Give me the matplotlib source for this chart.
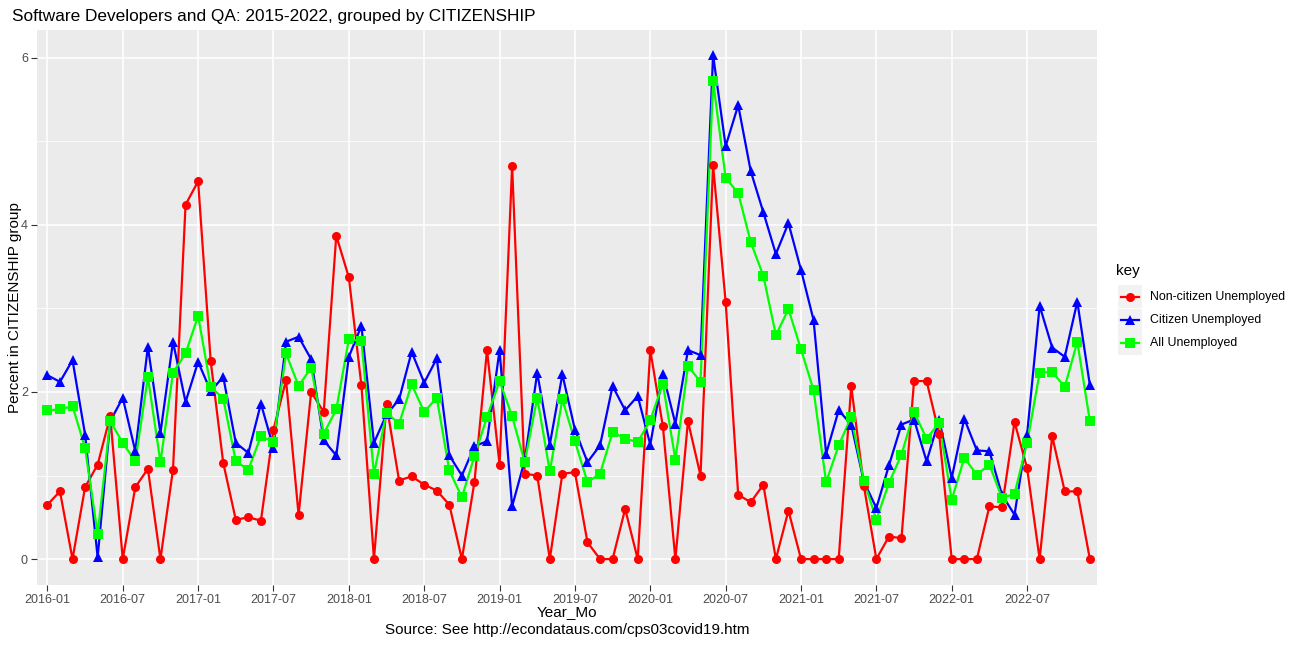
import numpy as np
import matplotlib
matplotlib.use("Agg")
import matplotlib.pyplot as plt
from matplotlib.lines import Line2D
from matplotlib.patches import Rectangle

plt.rcParams['font.family'] = ['Liberation Sans', 'DejaVu Sans']

# monthly values, 2016-01 .. 2022-12
months = [f"{y}-{m:02d}" for y in range(2016, 2023) for m in range(1, 13)]

noncitizen = [
    0.65, 0.81, 0.00, 0.86, 1.13, 1.71, 0.00, 0.86, 1.08, 0.00, 1.07, 4.24,
    4.52, 2.37, 1.15, 0.47, 0.50, 0.46, 1.55, 2.14, 0.53, 2.00, 1.76, 3.87,
    3.37, 2.08, 0.00, 1.85, 0.94, 0.99, 0.89, 0.82, 0.65, 0.00, 0.92, 2.50,
    1.13, 4.70, 1.02, 1.00, 0.00, 1.02, 1.04, 0.20, 0.00, 0.00, 0.60, 0.00,
    2.50, 1.59, 0.00, 1.65, 1.00, 4.71, 3.08, 0.77, 0.68, 0.89, 0.00, 0.58,
    0.00, 0.00, 0.00, 0.00, 2.07, 0.88, 0.00, 0.27, 0.25, 2.13, 2.13, 1.50,
    0.00, 0.00, 0.00, 0.63, 0.62, 1.64, 1.09, 0.00, 1.47, 0.81, 0.81, 0.00,
]
citizen = [
    2.20, 2.12, 2.38, 1.49, 0.02, 1.65, 1.93, 1.29, 2.54, 1.51, 2.60, 1.88,
    2.36, 2.01, 2.18, 1.39, 1.27, 1.86, 1.33, 2.60, 2.66, 2.39, 1.42, 1.24,
    2.42, 2.79, 1.39, 1.73, 1.91, 2.48, 2.11, 2.40, 1.24, 1.00, 1.35, 1.41,
    2.50, 0.63, 1.18, 2.23, 1.37, 2.21, 1.55, 1.16, 1.36, 2.07, 1.78, 1.95,
    1.37, 2.22, 1.62, 2.50, 2.44, 6.03, 4.94, 5.43, 4.64, 4.15, 3.65, 4.02,
    3.46, 2.86, 1.26, 1.78, 1.61, 0.93, 0.61, 1.12, 1.61, 1.67, 1.17, 1.67,
    0.97, 1.68, 1.30, 1.29, 0.77, 0.53, 1.49, 3.03, 2.53, 2.42, 3.08, 2.08,
]
all_unemp = [
    1.78, 1.79, 1.83, 1.33, 0.30, 1.65, 1.39, 1.17, 2.18, 1.16, 2.23, 2.46,
    2.91, 2.06, 1.92, 1.17, 1.07, 1.47, 1.40, 2.46, 2.07, 2.29, 1.50, 1.79,
    2.63, 2.61, 1.02, 1.75, 1.62, 2.09, 1.76, 1.93, 1.06, 0.74, 1.23, 1.70,
    2.13, 1.71, 1.16, 1.93, 1.05, 1.91, 1.41, 0.92, 1.02, 1.52, 1.44, 1.40,
    1.66, 2.10, 1.19, 2.31, 2.12, 5.72, 4.56, 4.38, 3.79, 3.39, 2.68, 2.99,
    2.51, 2.02, 0.92, 1.36, 1.70, 0.94, 0.47, 0.91, 1.25, 1.76, 1.44, 1.63,
    0.71, 1.21, 1.01, 1.13, 0.73, 0.78, 1.39, 2.23, 2.24, 2.06, 2.60, 1.65,
]

series = [
    ("Non-citizen Unemployed", noncitizen, "#FF0000", "o", 6.5),
    ("Citizen Unemployed", citizen, "#0000FF", "^", 7.5),
    ("All Unemployed", all_unemp, "#00FF00", "s", 6.5),
]

W, H = 1298, 645
fig = plt.figure(figsize=(W / 100, H / 100), dpi=100)
L, R, T, B = 37, 1097, 30, 585
ax = fig.add_axes([L / W, (H - B) / H, (R - L) / W, (B - T) / H])
ax.set_facecolor("#EBEBEB")
for s in ax.spines.values():
    s.set_visible(False)

x = np.arange(len(months))

# lines first, then points (like geom_line + geom_point)
for name, vals, col, mk, ms in series:
    ax.plot(x, vals, color=col, lw=1.6, zorder=3)
for name, vals, col, mk, ms in series:
    ax.plot(x, vals, linestyle="none", marker=mk, markersize=ms,
            color=col, markeredgewidth=0, zorder=4)

ax.set_xlim((L - 47.4) / 12.56, (R - 47.4) / 12.56)
ax.set_ylim(-0.31, 6.33)

ax.set_xticks(x[::6])
ax.set_xticklabels(months[::6])
ax.set_yticks([0, 2, 4, 6])
ax.set_yticks([1, 3, 5], minor=True)
ax.tick_params(axis="both", which="major", colors="#333333", length=4,
               width=0.8, labelsize=9, labelcolor="#4D4D4D", pad=2.5)
ax.tick_params(axis="y", which="minor", length=0)
ax.grid(which="major", color="white", lw=1.1, zorder=0)
ax.grid(which="minor", axis="y", color="white", lw=0.55, zorder=0)
ax.set_axisbelow(True)

cx = (L + R) / 2 / W
fig.text(cx, 1 - 612 / H, "Year_Mo", fontsize=11, ha="center", va="center")
fig.text(cx, 1 - 630 / H, "Source: See http://econdataus.com/cps03covid19.htm",
         fontsize=11, ha="center", va="center")
fig.text(15 / W, 1 - (T + B) / 2 / H, "Percent in CITIZENSHIP group",
         fontsize=11, rotation=90, ha="center", va="center")
fig.text(12 / W, 1 - 16 / H,
         "Software Developers and QA: 2015-2022, grouped by CITIZENSHIP",
         fontsize=12.4, va="center", ha="left")

# legend, drawn ggplot style
fig.text(1116 / W, 1 - 271 / H, "key", fontsize=11, va="center", ha="left")
for i, (name, vals, col, mk, ms) in enumerate(series):
    yc = 297 + i * 23
    fig.patches.append(Rectangle((1118 / W, 1 - (yc + 11.5) / H), 24 / W, 23 / H,
                                 transform=fig.transFigure, facecolor="#F2F2F2",
                                 edgecolor="none"))
    fig.lines.append(Line2D([1121 / W, 1139 / W], [1 - yc / H, 1 - yc / H],
                            transform=fig.transFigure, color=col, lw=1.6))
    fig.lines.append(Line2D([1130 / W], [1 - yc / H], transform=fig.transFigure,
                            color=col, marker=mk, markersize=ms,
                            markeredgewidth=0, linestyle="none"))
    fig.text(1150 / W, 1 - yc / H, name, fontsize=8.9, va="center", ha="left")

fig.savefig("out.png", dpi=100)
